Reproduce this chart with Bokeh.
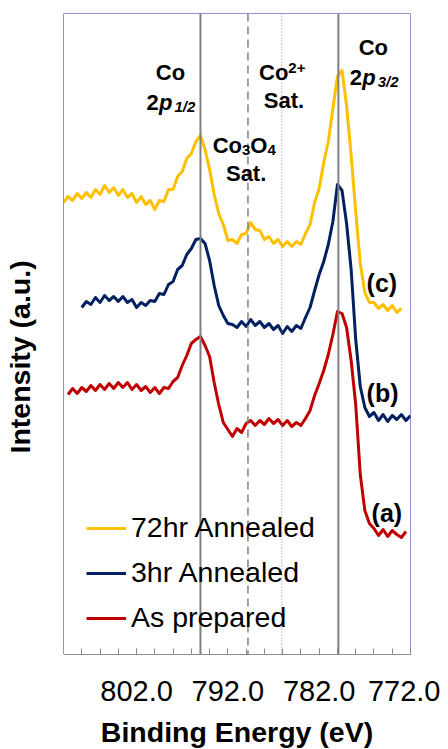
from bokeh.plotting import figure
from bokeh.models import (Range1d, FixedTicker, Span, Label, Legend, LegendItem,
                          Title, PrintfTickFormatter)
from bokeh.embed import file_html
from bokeh.resources import INLINE

nan = float("nan")

# ---------------- data ----------------
energy = [810.0, 809.5, 809.0, 808.5, 808.0, 807.5, 807.0, 806.5, 806.0, 805.5,
          805.0, 804.5, 804.0, 803.5, 803.0, 802.5, 802.0, 801.5, 801.0, 800.5,
          800.0, 799.5, 799.0, 798.5, 798.0, 797.5, 797.0, 796.5, 796.0, 795.5,
          795.0, 794.5, 794.0, 793.5, 793.0, 792.5, 792.0, 791.5, 791.0, 790.5,
          790.0, 789.5, 789.0, 788.5, 788.0, 787.5, 787.0, 786.5, 786.0, 785.5,
          785.0, 784.5, 784.0, 783.5, 783.0, 782.5, 782.0, 781.5, 781.0, 780.5,
          780.0, 779.5, 779.0, 778.5, 778.0, 777.5, 777.0, 776.5, 776.0, 775.5,
          775.0, 774.5, 774.0, 773.5, 773.0, 772.5, 772.0]

annealed_72hr = [452, 458, 454, 461, 456, 462, 457, 465, 460, 469,
                 462, 467, 459, 465, 457, 461, 452, 458, 450, 454,
                 445, 454, 453, 465, 465, 478, 483, 496, 501, 513,
                 519, 505, 485, 460, 441, 430, 414, 415, 411, 420,
                 421, 432, 425, 424, 415, 418, 411, 415, 408, 413,
                 408, 413, 410, 421, 430, 452, 466, 492, 513, 546,
                 578, 584, 549, 499, 443, 391, 362, 352, 352, 346,
                 350, 344, 349, 342, 346, nan, nan]

annealed_3hr = [nan, nan, nan, nan, 347, 353, 350, 357, 352, 359,
                354, 358, 353, 358, 352, 355, 347, 352, 349, 354,
                353, 361, 360, 370, 373, 385, 389, 400, 406, 415,
                416, 411, 394, 369, 349, 339, 331, 330, 327, 333,
                328, 335, 329, 333, 327, 331, 325, 329, 321, 328,
                323, 329, 326, 337, 347, 364, 380, 393, 410, 433,
                470, 464, 431, 385, 315, 268, 247, 238, 242, 234,
                240, 233, 239, 235, 240, 234, 239]

as_prepared = [nan, 260, 266, 261, 267, 263, 269, 264, 270, 265,
               271, 266, 272, 267, 272, 265, 270, 264, 268, 262,
               267, 261, 267, 266, 273, 277, 289, 299, 311, 315,
               318, 309, 298, 272, 250, 232, 225, 218, 226, 222,
               231, 234, 229, 234, 230, 236, 231, 235, 229, 234,
               228, 232, 229, 236, 244, 259, 271, 284, 300, 320,
               343, 341, 327, 294, 250, 180, 144, 131, 126, 119,
               125, 118, 124, 120, 117, 123, nan]

series_names = ["72hr Annealed", "3hr Annealed", "As prepared"]
series_colors = ["#FFC000", "#002060", "#C00000"]

major_ticks = [802, 792, 782, 772]
minor_ticks = [808, 806, 804, 802, 800, 798, 796, 794, 792, 790,
               788, 786, 784, 782, 780, 778, 776, 774]

peak_lines = [795.0, 779.9]      # Co 2p1/2, Co 2p3/2
co3o4_sat_line = 789.8
co2_sat_line = 786.1

FONT = "Liberation Sans"
FRAME = "#9d8fcf"
GRAY = "#808080"

p = figure(frame_width=347, frame_height=641,
           x_range=Range1d(810, 772), y_range=Range1d(0, 641),
           output_backend="svg", toolbar_location=None,
           min_border_left=63, min_border_right=30,
           min_border_top=13, min_border_bottom=5)
p.background_fill_color = "white"
p.border_fill_color = "white"
p.grid.visible = False
p.outline_line_color = FRAME
p.outline_line_width = 1

# left axis: just the frame line; a blank white tick sets the gap to the title
ya = p.yaxis[0]
ya.ticker = FixedTicker(ticks=[0])
ya.major_label_overrides = {0: ""}
ya.major_label_standoff = 0
ya.axis_line_color = FRAME
ya.major_tick_line_color = "white"
ya.minor_tick_line_color = None
ya.major_tick_in = 0
ya.major_tick_out = 27
ya.minor_tick_in = 0
ya.minor_tick_out = 0

xa = p.xaxis[0]
xa.ticker = FixedTicker(ticks=major_ticks, minor_ticks=minor_ticks)
xa.formatter = PrintfTickFormatter(format="%.1f")
xa.axis_line_color = "#8c8c8c"
xa.major_tick_line_color = "#8c8c8c"
xa.minor_tick_line_color = "#8c8c8c"
xa.major_tick_in = 6
xa.major_tick_out = 0
xa.minor_tick_in = 6
xa.minor_tick_out = 0
xa.major_label_text_font = FONT
xa.major_label_text_font_size = "29px"
xa.major_label_text_color = "black"
xa.major_label_standoff = 26
xa.axis_label = "Binding Energy (eV)"
xa.axis_label_text_font = FONT
xa.axis_label_text_font_size = "28.5px"
xa.axis_label_text_font_style = "bold"
xa.axis_label_text_color = "black"
xa.axis_label_standoff = 12

ytitle = Title(text="Intensity (a.u.)", align="left", offset=201,
               text_font=FONT, text_font_size="28.5px", text_font_style="bold",
               text_color="black", standoff=2)
p.add_layout(ytitle, "left")

renderers = []
for vals, col in zip([annealed_72hr, annealed_3hr, as_prepared], series_colors):
    r = p.line(energy, vals, line_color=col, line_width=3, line_join="round")
    renderers.append(r)

for e in peak_lines:
    p.add_layout(Span(location=e, dimension="height", line_color=GRAY, line_width=2))
p.add_layout(Span(location=co3o4_sat_line, dimension="height", line_color=GRAY,
                  line_width=1.5, line_dash="8 5"))
p.add_layout(Span(location=co2_sat_line, dimension="height", line_color=GRAY,
                  line_width=1, line_dash="1 2"))

def lab(x, y, text, size="22px", style="bold", align="left", xoff=0):
    p.add_layout(Label(x=x, y=y, text=text, x_offset=xoff, text_font=FONT,
                       text_font_size=size, text_font_style=style,
                       text_color="black", text_align=align,
                       text_baseline="alphabetic"))

# Co 2p1/2
lab(798.29, 582, "Co", align="center")
lab(800.91, 552, "2")
lab(800.91, 552, "p", style="bold italic", xoff=12.5)
lab(800.91, 548, "1/2", size="15px", style="bold italic", xoff=28)
# Co3O4 Sat.
lab(793.66, 509, "Co")
lab(793.66, 505, "3", size="15px", xoff=29.3)
lab(793.66, 509, "O", xoff=37.6)
lab(793.66, 505, "4", size="15px", xoff=54.7)
lab(790.0, 481, "Sat.", align="center")
# Co2+ Sat.
lab(788.59, 582, "Co")
lab(788.59, 587, "2+", size="15px", xoff=29.3)
lab(785.86, 554, "Sat.", align="center")
# Co 2p3/2
lab(777.68, 607, "Co")
lab(778.66, 577, "2")
lab(778.66, 577, "p", style="bold italic", xoff=12.5)
lab(778.66, 573, "3/2", size="15px", style="bold italic", xoff=28)
# (a) (b) (c)
lab(776.81, 372, "(c)", size="25px")
lab(776.81, 262, "(b)", size="25px")
lab(776.26, 142, "(a)", size="25px")

legend = Legend(items=[LegendItem(label=n, renderers=[r])
                       for n, r in zip(series_names, renderers)],
                location=(23, 20), padding=0, margin=0, spacing=12,
                glyph_width=40, glyph_height=32, label_height=32,
                label_standoff=5, label_text_font=FONT,
                label_text_font_size="28.5px", label_text_color="black",
                background_fill_alpha=0, border_line_alpha=0)
p.add_layout(legend)

open("out.html", "w").write(file_html(p, INLINE))
